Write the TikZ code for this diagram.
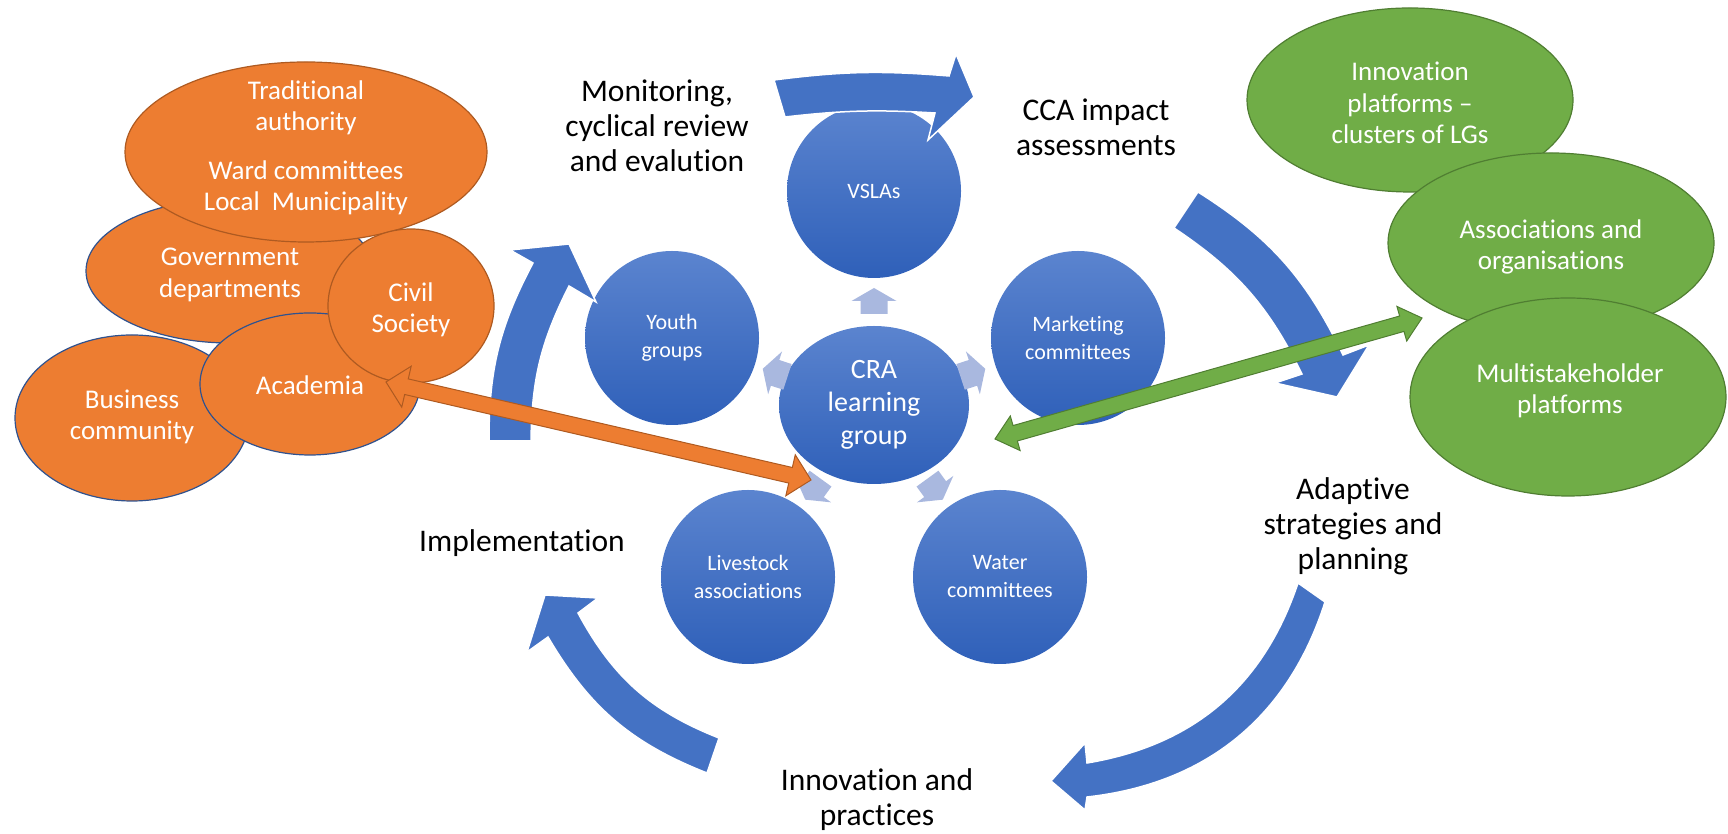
\documentclass[tikz,border=0pt]{standalone}
\usepackage{fontspec}
\setmainfont{Carlito}[Ligatures={TeX,NoCommon}]
\usepackage{tikz}
\usetikzlibrary{shapes.geometric,calc}

\definecolor{cycleblue}{HTML}{4472C4}
\definecolor{ballhi}{HTML}{5B84CF}
\definecolor{balllo}{HTML}{2F60B9}
\definecolor{paleblue}{HTML}{A9B8DF}
\definecolor{orangefill}{HTML}{ED7D31}
\definecolor{orangeline}{HTML}{AE5A21}
\definecolor{greenfill}{HTML}{70AD47}
\definecolor{greenline}{HTML}{507E32}
\definecolor{blueline}{HTML}{2F528F}

\tikzset{
  ball/.style={ellipse, minimum width=174pt, minimum height=174pt, inner sep=0pt,
    top color=ballhi, bottom color=balllo, text=white, align=center,
    font=\fontsize{22}{28}\selectfont},
  oval/.style={ellipse, inner sep=0pt, line width=1.2pt},
  orangeoval/.style={oval, fill=orangefill, draw=orangeline},
  orangeblue/.style={oval, fill=orangefill, draw=blueline},
  greenoval/.style={oval, fill=greenfill, draw=greenline},
  ovaltext/.style={text=white, align=center, font=\fontsize{27}{31.5}\selectfont},
  cyclelabel/.style={align=center, font=\fontsize{31.5}{35}\selectfont},
  cyclearrow/.style={fill=cycleblue, draw=white, line width=1.5pt},
}

% double headed block arrow: style, from, to, head half width
\newcommand{\twoway}[4]{%
  \coordinate (tw1) at ($(#2)!21pt!(#3)$);
  \coordinate (tw2) at ($(#3)!21pt!(#2)$);
  \filldraw[#1] (#2) -- ($(tw1)!#4!90:(#3)$) -- ($(tw1)!8pt!90:(#3)$)
    -- ($(tw2)!8pt!-90:(#2)$) -- ($(tw2)!#4!-90:(#2)$) -- (#3)
    -- ($(tw2)!#4!90:(#2)$) -- ($(tw2)!8pt!90:(#2)$)
    -- ($(tw1)!8pt!-90:(#3)$) -- ($(tw1)!#4!-90:(#3)$) -- cycle;}

\begin{document}
\begin{tikzpicture}[x=1pt,y=1pt]
\useasboundingbox (0,0) rectangle (1728,834);

% stakeholders on the left
\node[orangeblue, minimum width=234pt, minimum height=166pt] (business) at (132,416) {};
\node[ovaltext] (businesstext) at (132,417) {Business\\community};
\node[orangeblue, minimum width=288pt, minimum height=144pt] (govt) at (230,563) {};
\node[ovaltext] (govttext) at (230,559) {Government\\departments};
\node[orangeblue, minimum width=220pt, minimum height=142pt] (academia) at (310,450) {};
\node[ovaltext] (academiatext) at (310,449) {Academia};
\node[orangeoval, minimum width=362pt, minimum height=180pt] (trad) at (306,682) {};
\node[ovaltext] (tradtext) at (306,686) {Traditional\\authority\\[17pt]Ward committees\\Local\ \ Municipality};
\node[orangeoval, minimum width=166pt, minimum height=154pt] (civil) at (411,528) {};
\node[ovaltext] (civiltext) at (411,524) {Civil\\Society};

% platforms on the right
\node[greenoval, minimum width=326pt, minimum height=184pt] (innoplat) at (1410,734) {};
\node[ovaltext] (innoplattext) at (1410,731) {Innovation\\platforms –\\clusters of LGs};
\node[greenoval, minimum width=326pt, minimum height=180pt] (assoc) at (1551,591) {};
\node[ovaltext] (assoctext) at (1551,587) {Associations and\\organisations};
\node[greenoval, minimum width=316pt, minimum height=198pt] (multi) at (1568,437) {};
\node[ovaltext] (multitext) at (1570,443) {Multistakeholder\\platforms};

% learning groups
\node[ball, minimum width=190pt, minimum height=158pt, font=\fontsize{28}{33}\selectfont] (cra) at (874,429) {CRA\\learning\\group};
\node[ball] (vsla) at (874,643) {VSLAs};
\node[ball] (youth) at (672,496) {Youth\\groups};
\node[ball] (market) at (1078,496) {Marketing\\committees};
\node[ball] (livestock) at (748,257) {Livestock\\associations};
\node[ball] (water) at (1000,257) {Water\\committees};

\foreach \ang in {90,162,18,234,306}
  \fill[paleblue, shift={(cra.center)}, rotate=\ang] (91,-13.5) -- (104,-13.5) -- (104,-22.5)
    -- (117,0) -- (104,22.5) -- (104,13.5) -- (91,13.5) -- cycle;

% the cycle
\draw[cyclearrow] (774,754) to[bend left=6] (949,758) -- (956,780) -- (974,737)
  -- (928,694) -- (935,721) to[bend right=5] (785,717) -- cycle;
\draw[cyclearrow] (1198,642) to[bend left=16] (1343,479) -- (1369,489) -- (1337,437)
  -- (1275,451) -- (1302,460) to[bend right=15] (1174,606) -- cycle;
\draw[cyclearrow] (1325,232) to[bend left=33] (1087,37) -- (1085,24) -- (1051,53)
  -- (1085,91) -- (1087,71) to[bend right=31] (1298,251) -- cycle;
\draw[cyclearrow] (707,61) to[bend left=19] (548,197) -- (527,182) -- (545,239)
  -- (598,236) -- (578,221) to[bend right=20] (719,96) -- cycle;
\draw[cyclearrow] (489,393) to[bend left=14] (533,571) -- (510,584) -- (569,590)
  -- (596,532) -- (569,548) to[bend right=13] (531,393) -- cycle;

\node[cyclelabel] (monitor) at (657,708) {Monitoring,\\cyclical review\\and evalution};
\node[cyclelabel] (impact) at (1096,707) {CCA impact\\assessments};
\node[cyclelabel] (adaptive) at (1353,308) {Adaptive\\strategies and\\planning};
\node[cyclelabel] (practice) at (877,34) {Innovation and\\practices};
\node[cyclelabel] (implement) at (522,291) {Implementation};

% links to the stakeholders
\coordinate (orA) at (386,452);
\coordinate (orB) at (811,354);
\twoway{fill=orangefill, draw=orangeline, line width=1pt}{orA}{orB}{21pt}
\coordinate (grA) at (995,395);
\coordinate (grB) at (1422,516);
\twoway{fill=greenfill, draw=greenline, line width=1pt}{grA}{grB}{18pt}

\end{tikzpicture}
\end{document}
